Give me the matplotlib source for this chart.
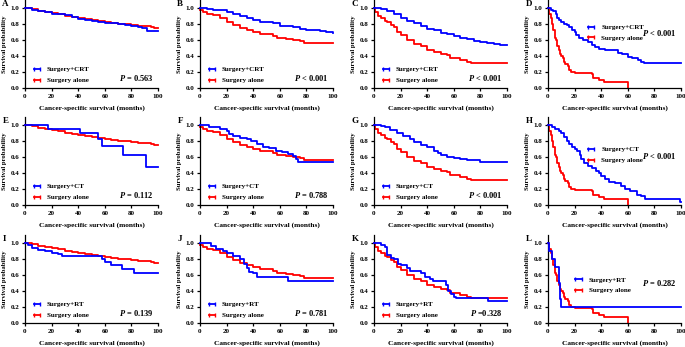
# Kaplan-Meier curves, 3x4 panels
import matplotlib
matplotlib.use("Agg")
import matplotlib.pyplot as plt
from matplotlib.lines import Line2D

plt.rcParams['font.family'] = 'Liberation Serif'
plt.rcParams['font.weight'] = 'bold'
plt.rcParams['mathtext.fontset'] = 'custom'
plt.rcParams['mathtext.it'] = 'Liberation Serif:italic:bold'
plt.rcParams['mathtext.rm'] = 'Liberation Serif:bold'

# ---- data: (month, survival) breakpoints ----
# surgery alone cohorts (same for each column)
ALONE_1 = [(0, 1.0), (5, 0.985), (10, 0.965), (15, 0.95), (20, 0.935), (25, 0.92), (30, 0.905),
           (35, 0.89), (40, 0.875), (45, 0.865), (50, 0.85), (55, 0.84), (60, 0.825), (65, 0.815),
           (70, 0.805), (75, 0.8), (80, 0.79), (85, 0.78), (90, 0.775), (95, 0.765), (97, 0.755), (100, 0.755)]
ALONE_2 = [(0, 0.98), (2, 0.95), (5, 0.93), (10, 0.91), (15, 0.87), (20, 0.83), (25, 0.79), (30, 0.75),
           (35, 0.73), (40, 0.70), (45, 0.68), (50, 0.67), (55, 0.65), (58, 0.62), (65, 0.61),
           (70, 0.60), (75, 0.59), (78, 0.56), (100, 0.56)]
ALONE_3 = [(0, 1.0), (1, 0.95), (3, 0.90), (5, 0.87), (8, 0.84), (10, 0.82), (13, 0.79), (15, 0.76),
           (17, 0.70), (20, 0.66), (25, 0.60), (30, 0.55), (35, 0.52), (40, 0.48), (45, 0.45),
           (50, 0.43), (55, 0.41), (57, 0.38), (65, 0.35), (70, 0.33), (73, 0.31), (100, 0.31)]
ALONE_4 = [(0, 1.0), (1, 0.93), (2, 0.87), (3, 0.80), (4, 0.73), (5, 0.63), (6, 0.60), (7, 0.53),
           (8, 0.47), (9, 0.43), (10, 0.40), (11, 0.37), (12, 0.33), (13, 0.30), (15, 0.27),
           (16, 0.23), (17, 0.20), (20, 0.19), (33, 0.17), (34, 0.13), (38, 0.10), (42, 0.07), (60, 0.0)]

# surgery + CRT
A_CRT = [(0, 1.0), (5, 0.98), (10, 0.96), (15, 0.945), (20, 0.93), (25, 0.92), (30, 0.91), (35, 0.89),
         (40, 0.86), (45, 0.85), (50, 0.84), (55, 0.825), (60, 0.815), (65, 0.81), (70, 0.80),
         (75, 0.785), (80, 0.77), (85, 0.76), (88, 0.75), (92, 0.71), (100, 0.71)]
B_CRT = [(0, 1.0), (5, 0.99), (10, 0.98), (15, 0.97), (20, 0.95), (25, 0.92), (30, 0.90), (35, 0.88),
         (40, 0.85), (45, 0.83), (50, 0.82), (55, 0.81), (60, 0.78), (65, 0.77), (70, 0.76),
         (75, 0.74), (80, 0.73), (85, 0.72), (90, 0.71), (95, 0.70), (100, 0.69)]
C_CRT = [(0, 1.0), (5, 0.99), (10, 0.96), (15, 0.92), (20, 0.88), (25, 0.84), (30, 0.81), (35, 0.77),
         (40, 0.74), (45, 0.72), (50, 0.69), (55, 0.67), (60, 0.65), (65, 0.63), (70, 0.61),
         (75, 0.59), (80, 0.57), (85, 0.56), (90, 0.55), (95, 0.54), (100, 0.54)]
D_CRT = [(0, 1.0), (2, 0.98), (4, 0.96), (6, 0.92), (7, 0.88), (8, 0.85), (10, 0.82), (12, 0.80),
         (14, 0.79), (16, 0.76), (18, 0.72), (20, 0.70), (21, 0.66), (23, 0.62), (26, 0.60),
         (30, 0.58), (33, 0.54), (35, 0.51), (38, 0.49), (43, 0.48), (48, 0.47), (53, 0.44),
         (56, 0.42), (60, 0.39), (63, 0.37), (68, 0.35), (70, 0.33), (72, 0.31), (100, 0.31)]

# surgery + CT
E_CT = [(0, 1.0), (17, 0.95), (41, 0.895), (55, 0.82), (58, 0.74), (74, 0.63), (91, 0.47), (100, 0.47)]
F_CT = [(0, 1.0), (5, 1.0), (7, 0.98), (10, 0.97), (15, 0.95), (20, 0.92), (22, 0.89), (25, 0.86),
        (30, 0.84), (35, 0.83), (38, 0.80), (43, 0.76), (47, 0.73), (52, 0.71), (57, 0.68),
        (62, 0.66), (66, 0.64), (70, 0.61), (72, 0.58), (74, 0.54), (100, 0.54)]
G_CT = [(0, 1.0), (5, 0.99), (8, 0.97), (12, 0.94), (17, 0.90), (22, 0.86), (27, 0.82), (30, 0.79),
        (35, 0.75), (40, 0.72), (45, 0.68), (48, 0.65), (50, 0.62), (55, 0.60), (60, 0.59),
        (65, 0.57), (70, 0.56), (80, 0.54), (100, 0.54)]
H_CT = [(0, 1.0), (3, 0.98), (5, 0.95), (8, 0.93), (10, 0.90), (12, 0.85), (14, 0.80), (16, 0.76),
        (18, 0.72), (20, 0.70), (22, 0.67), (24, 0.62), (25, 0.58), (27, 0.53), (30, 0.49),
        (33, 0.46), (36, 0.43), (38, 0.40), (40, 0.36), (43, 0.32), (46, 0.29), (50, 0.27),
        (55, 0.24), (58, 0.20), (62, 0.18), (65, 0.17), (67, 0.13), (70, 0.11), (73, 0.08),
        (98, 0.07), (99, 0.04), (100, 0.04)]

# surgery + RT
I_RT = [(0, 1.0), (2, 0.97), (5, 0.94), (10, 0.91), (15, 0.90), (20, 0.88), (25, 0.86), (28, 0.84),
        (55, 0.84), (58, 0.80), (60, 0.76), (65, 0.73), (70, 0.72), (73, 0.68), (82, 0.63), (100, 0.63)]
J_RT = [(0, 1.0), (6, 1.0), (8, 0.96), (12, 0.93), (17, 0.90), (20, 0.87), (25, 0.84), (30, 0.80),
        (33, 0.74), (35, 0.69), (37, 0.64), (40, 0.62), (43, 0.58), (65, 0.58), (66, 0.53), (100, 0.53)]
K_RT = [(0, 1.0), (5, 0.98), (8, 0.95), (10, 0.85), (13, 0.81), (15, 0.80), (18, 0.74), (20, 0.72),
        (25, 0.69), (27, 0.65), (30, 0.65), (35, 0.62), (38, 0.58), (42, 0.55), (44, 0.52),
        (52, 0.52), (54, 0.48), (56, 0.40), (58, 0.36), (60, 0.33), (62, 0.31), (85, 0.31),
        (86, 0.27), (100, 0.27)]
L_RT = [(0, 1.0), (1, 0.90), (3, 0.80), (5, 0.70), (8, 0.50), (9, 0.30), (10, 0.20), (100, 0.20)]

LETTERS = ['A', 'B', 'C', 'D', 'E', 'F', 'G', 'H', 'I', 'J', 'K', 'L']
TREAT = ['Surgery+CRT', 'Surgery+CT', 'Surgery+RT']
P_TEXT = ['= 0.563', '< 0.001', '< 0.001', '< 0.001',
          '= 0.112', '= 0.788', '< 0.001', '< 0.001',
          '= 0.139', '= 0.781', '=0.328', '= 0.282']
TREAT_CURVES = [A_CRT, B_CRT, C_CRT, D_CRT, E_CT, F_CT, G_CT, H_CT, I_RT, J_RT, K_RT, L_RT]
ALONE_CURVES = [ALONE_1, ALONE_2, ALONE_3, ALONE_4]

fig = plt.figure(figsize=(6.85, 3.47), dpi=100)
W, H = 685, 347
lefts = [25, 200, 374, 548]
bottoms = [88, 205, 323]   # pixel row of y=0 in each row

for i in range(12):
    r, c = divmod(i, 4)
    ax = fig.add_axes([lefts[c] / W, (H - bottoms[r]) / H, 133 / W, 88 / H])

    for curve, col in [(ALONE_CURVES[c], 'red'), (TREAT_CURVES[i], 'blue')]:
        t = [p[0] for p in curve]
        s = [p[1] for p in curve]
        ax.step(t, s, where='post', color=col, lw=1.3, clip_on=False, zorder=3 if col == 'blue' else 2)

    ax.set_xlim(0, 100)
    ax.set_ylim(0, 1.1)
    ax.set_xticks([0, 20, 40, 60, 80, 100])
    ax.set_yticks([0, 0.2, 0.4, 0.6, 0.8, 1.0])
    ax.set_yticklabels(['0.0', '0.2', '0.4', '0.6', '0.8', '1.0'])
    for sp in ['top', 'right']:
        ax.spines[sp].set_visible(False)
    for sp in ['left', 'bottom']:
        ax.spines[sp].set_linewidth(0.9)
    ax.tick_params(direction='out', length=2.5, width=0.9, labelsize=5, pad=1.5)
    ax.set_xlabel('Cancer-specific survival (months)', fontsize=5.3, fontweight='bold', labelpad=4.5)
    ax.set_ylabel('Survival probability', fontsize=4.8, fontweight='bold', labelpad=3)
    ax.text(-0.17, 0.96, LETTERS[i], transform=ax.transAxes, fontsize=6.5, fontweight='bold', va='center')

    handles = [Line2D([], [], color='blue', lw=1.3, marker='|', ms=3, markevery=[0, 1]),
               Line2D([], [], color='red', lw=1.3, marker='|', ms=3, markevery=[0, 1])]
    labels = [TREAT[r], 'Surgery alone']
    if c == 3:
        if r == 0:
            anchor, p_y = (0.285, 0.63), 0.63
        elif r == 1:
            anchor, p_y = (0.285, 0.57), 0.56
        else:
            anchor, p_y = (0.19, 0.43), 0.46
    else:
        anchor, p_y = (0.05, 0.15), 0.11
    ax.legend(handles, labels, loc='center left', bbox_to_anchor=anchor, frameon=False,
              fontsize=5, handlelength=1.5, handletextpad=0.7, labelspacing=0.7,
              borderpad=0, borderaxespad=0, numpoints=2)
    ax.text(0.97, p_y, r'$P$ ' + P_TEXT[i], transform=ax.transAxes, ha='right', va='center',
            fontsize=6, fontweight='bold')

fig.savefig('out.png', dpi=100)
